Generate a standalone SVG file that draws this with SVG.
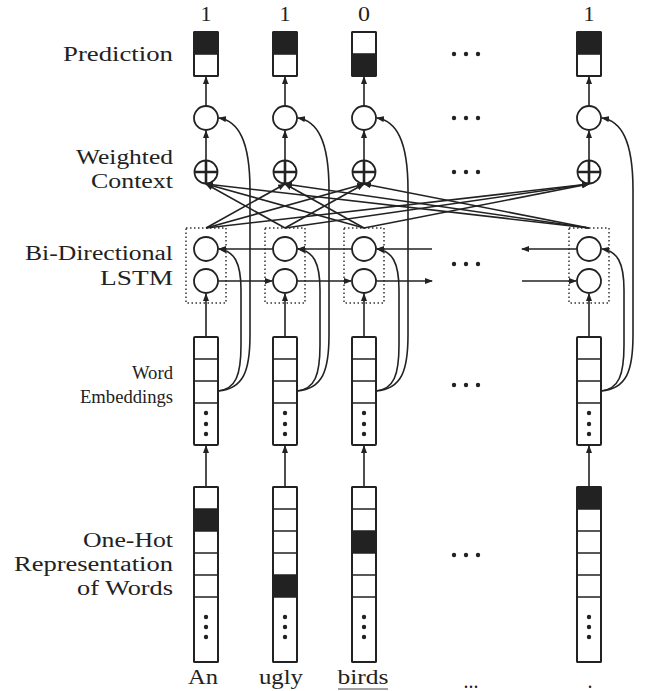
<svg xmlns="http://www.w3.org/2000/svg" width="647" height="691" viewBox="0 0 647 691">
<style>
.lbl{font-family:"Liberation Serif","Times New Roman",serif;font-size:20px;fill:#222}
.sm{font-size:18.5px}
.r{text-anchor:end}
.m{text-anchor:middle}
.box{fill:#fff;stroke:#222;stroke-width:2}
.cell{stroke:#222;stroke-width:1.6;fill:none}
.fill{fill:#222}
.node{fill:#fff;stroke:#222;stroke-width:1.8}
.plus{stroke:#222;stroke-width:2.6;fill:none}
.dot{fill:#222}
.dash{fill:none;stroke:#333;stroke-width:1.5;stroke-dasharray:1.5 2.5}
.con{fill:none;stroke:#222;stroke-width:1.6;marker-end:url(#ah)}
</style>
<defs>
<marker id="ah" markerUnits="userSpaceOnUse" markerWidth="8" markerHeight="6" refX="7" refY="3" orient="auto">
<path d="M0,0 L8,3 L0,6 z" fill="#222"/>
</marker>
</defs>
<rect width="647" height="691" fill="#fff"/>

<g id="labels">
<text class="lbl r" x="173" y="61" textLength="110" lengthAdjust="spacingAndGlyphs">Prediction</text>
<text class="lbl r" x="173" y="164" textLength="97" lengthAdjust="spacingAndGlyphs">Weighted</text>
<text class="lbl r" x="173" y="188" textLength="82" lengthAdjust="spacingAndGlyphs">Context</text>
<text class="lbl r" x="173" y="260" textLength="148" lengthAdjust="spacingAndGlyphs">Bi-Directional</text>
<text class="lbl r" x="173" y="285" textLength="73" lengthAdjust="spacingAndGlyphs">LSTM</text>
<text class="lbl sm r" x="173" y="379" textLength="41" lengthAdjust="spacingAndGlyphs">Word</text>
<text class="lbl sm r" x="173" y="403" textLength="93" lengthAdjust="spacingAndGlyphs">Embeddings</text>
<text class="lbl r" x="173" y="547" textLength="90" lengthAdjust="spacingAndGlyphs">One-Hot</text>
<text class="lbl r" x="173" y="571" textLength="159" lengthAdjust="spacingAndGlyphs">Representation</text>
<text class="lbl r" x="173" y="595" textLength="96" lengthAdjust="spacingAndGlyphs">of Words</text>
</g>

<g id="outputs">
<text class="lbl m" x="206" y="21" textLength="11" lengthAdjust="spacingAndGlyphs">1</text>
<text class="lbl m" x="285" y="21" textLength="11" lengthAdjust="spacingAndGlyphs">1</text>
<text class="lbl m" x="364" y="21" textLength="12" lengthAdjust="spacingAndGlyphs">0</text>
<text class="lbl m" x="589" y="21" textLength="11" lengthAdjust="spacingAndGlyphs">1</text>
</g>

<g id="words">
<text class="lbl m" x="203" y="684" textLength="30" lengthAdjust="spacingAndGlyphs">An</text>
<text class="lbl m" x="281" y="684" textLength="44" lengthAdjust="spacingAndGlyphs">ugly</text>
<text class="lbl m" x="363" y="684" textLength="51" lengthAdjust="spacingAndGlyphs">birds</text>
<line x1="338" y1="689" x2="388" y2="689" stroke="#444" stroke-width="1"/>
<text class="lbl m" x="471" y="688">...</text>
<text class="lbl m" x="590" y="688">.</text>
</g>

<!-- prediction boxes -->
<g id="pred1"><rect class="box" x="194" y="32" width="24" height="44" rx="1"/><rect class="fill" x="194" y="32" width="24" height="22"/><line class="cell" x1="194" y1="54" x2="218" y2="54"/><rect x="194" y="32" width="24" height="44" rx="1" fill="none" stroke="#222" stroke-width="2"/></g>
<g id="pred2"><rect class="box" x="273" y="32" width="24" height="44" rx="1"/><rect class="fill" x="273" y="32" width="24" height="22"/><line class="cell" x1="273" y1="54" x2="297" y2="54"/><rect x="273" y="32" width="24" height="44" rx="1" fill="none" stroke="#222" stroke-width="2"/></g>
<g id="pred3"><rect class="box" x="352" y="32" width="24" height="44" rx="1"/><rect class="fill" x="352" y="54" width="24" height="22"/><line class="cell" x1="352" y1="54" x2="376" y2="54"/><rect x="352" y="32" width="24" height="44" rx="1" fill="none" stroke="#222" stroke-width="2"/></g>
<g id="pred4"><rect class="box" x="577" y="32" width="24" height="44" rx="1"/><rect class="fill" x="577" y="32" width="24" height="22"/><line class="cell" x1="577" y1="54" x2="601" y2="54"/><rect x="577" y="32" width="24" height="44" rx="1" fill="none" stroke="#222" stroke-width="2"/></g>

<!-- output circles -->
<g id="out1"><circle class="node" cx="206" cy="118" r="12"/></g>
<g id="out2"><circle class="node" cx="285" cy="118" r="12"/></g>
<g id="out3"><circle class="node" cx="364" cy="118" r="12"/></g>
<g id="out4"><circle class="node" cx="589" cy="118" r="12"/></g>

<!-- weighted context -->
<g id="ctx1"><circle class="node" cx="206" cy="172" r="11.5"/><path class="plus" d="M194.5,172 H217.5 M206,160.5 V183.5"/></g>
<g id="ctx2"><circle class="node" cx="285" cy="172" r="11.5"/><path class="plus" d="M273.5,172 H296.5 M285,160.5 V183.5"/></g>
<g id="ctx3"><circle class="node" cx="364" cy="172" r="11.5"/><path class="plus" d="M352.5,172 H375.5 M364,160.5 V183.5"/></g>
<g id="ctx4"><circle class="node" cx="589" cy="172" r="11.5"/><path class="plus" d="M577.5,172 H600.5 M589,160.5 V183.5"/></g>

<!-- LSTM -->
<g id="lstm1"><rect class="dash" x="186" y="228" width="40" height="75"/><circle class="node" cx="206" cy="249" r="12"/><circle class="node" cx="206" cy="281" r="12"/></g>
<g id="lstm2"><rect class="dash" x="265" y="228" width="40" height="75"/><circle class="node" cx="285" cy="249" r="12"/><circle class="node" cx="285" cy="281" r="12"/></g>
<g id="lstm3"><rect class="dash" x="344" y="228" width="40" height="75"/><circle class="node" cx="364" cy="249" r="12"/><circle class="node" cx="364" cy="281" r="12"/></g>
<g id="lstm4"><rect class="dash" x="569" y="228" width="40" height="75"/><circle class="node" cx="589" cy="249" r="12"/><circle class="node" cx="589" cy="281" r="12"/></g>

<!-- embeddings -->
<g id="emb1"><rect class="box" x="194" y="337" width="24" height="108" rx="1"/><path class="cell" d="M194,359H218M194,381H218M194,403H218"/><circle class="dot" cx="206" cy="413" r="2.2"/><circle class="dot" cx="206" cy="424" r="2.2"/><circle class="dot" cx="206" cy="434" r="2.2"/></g>
<g id="emb2"><rect class="box" x="273" y="337" width="24" height="108" rx="1"/><path class="cell" d="M273,359H297M273,381H297M273,403H297"/><circle class="dot" cx="285" cy="413" r="2.2"/><circle class="dot" cx="285" cy="424" r="2.2"/><circle class="dot" cx="285" cy="434" r="2.2"/></g>
<g id="emb3"><rect class="box" x="352" y="337" width="24" height="108" rx="1"/><path class="cell" d="M352,359H376M352,381H376M352,403H376"/><circle class="dot" cx="364" cy="413" r="2.2"/><circle class="dot" cx="364" cy="424" r="2.2"/><circle class="dot" cx="364" cy="434" r="2.2"/></g>
<g id="emb4"><rect class="box" x="577" y="337" width="24" height="108" rx="1"/><path class="cell" d="M577,359H601M577,381H601M577,403H601"/><circle class="dot" cx="589" cy="413" r="2.2"/><circle class="dot" cx="589" cy="424" r="2.2"/><circle class="dot" cx="589" cy="434" r="2.2"/></g>

<!-- one-hot -->
<g id="oh1"><rect class="box" x="194" y="487" width="24" height="175" rx="1"/><rect class="fill" x="194" y="509" width="24" height="22"/><path class="cell" d="M194,509H218M194,531H218M194,553H218M194,575H218M194,597H218"/><circle class="dot" cx="206" cy="617" r="2.2"/><circle class="dot" cx="206" cy="627" r="2.2"/><circle class="dot" cx="206" cy="637" r="2.2"/><rect x="194" y="487" width="24" height="175" rx="1" fill="none" stroke="#222" stroke-width="2"/></g>
<g id="oh2"><rect class="box" x="273" y="487" width="24" height="175" rx="1"/><rect class="fill" x="273" y="575" width="24" height="22"/><path class="cell" d="M273,509H297M273,531H297M273,553H297M273,575H297M273,597H297"/><circle class="dot" cx="285" cy="617" r="2.2"/><circle class="dot" cx="285" cy="627" r="2.2"/><circle class="dot" cx="285" cy="637" r="2.2"/><rect x="273" y="487" width="24" height="175" rx="1" fill="none" stroke="#222" stroke-width="2"/></g>
<g id="oh3"><rect class="box" x="352" y="487" width="24" height="175" rx="1"/><rect class="fill" x="352" y="531" width="24" height="22"/><path class="cell" d="M352,509H376M352,531H376M352,553H376M352,575H376M352,597H376"/><circle class="dot" cx="364" cy="617" r="2.2"/><circle class="dot" cx="364" cy="627" r="2.2"/><circle class="dot" cx="364" cy="637" r="2.2"/><rect x="352" y="487" width="24" height="175" rx="1" fill="none" stroke="#222" stroke-width="2"/></g>
<g id="oh4"><rect class="box" x="577" y="487" width="24" height="175" rx="1"/><rect class="fill" x="577" y="487" width="24" height="22"/><path class="cell" d="M577,509H601M577,531H601M577,553H601M577,575H601M577,597H601"/><circle class="dot" cx="589" cy="617" r="2.2"/><circle class="dot" cx="589" cy="627" r="2.2"/><circle class="dot" cx="589" cy="637" r="2.2"/><rect x="577" y="487" width="24" height="175" rx="1" fill="none" stroke="#222" stroke-width="2"/></g>

<!-- ellipses -->
<g id="ellipses" class="dot">
<circle cx="454" cy="54" r="2.2"/><circle cx="466" cy="54" r="2.2"/><circle cx="478" cy="54" r="2.2"/>
<circle cx="454" cy="118" r="2.2"/><circle cx="466" cy="118" r="2.2"/><circle cx="478" cy="118" r="2.2"/>
<circle cx="454" cy="172" r="2.2"/><circle cx="466" cy="172" r="2.2"/><circle cx="478" cy="172" r="2.2"/>
<circle cx="454" cy="264" r="2.2"/><circle cx="466" cy="264" r="2.2"/><circle cx="478" cy="264" r="2.2"/>
<circle cx="454" cy="385" r="2.2"/><circle cx="466" cy="385" r="2.2"/><circle cx="478" cy="385" r="2.2"/>
<circle cx="454" cy="555" r="2.2"/><circle cx="466" cy="555" r="2.2"/><circle cx="478" cy="555" r="2.2"/>
</g>

<g id="connectors">
<!-- vertical -->
<path class="con" d="M206,106V77"/><path class="con" d="M285,106V77"/><path class="con" d="M364,106V77"/><path class="con" d="M589,106V77"/>
<path class="con" d="M206,160V131"/><path class="con" d="M285,160V131"/><path class="con" d="M364,160V131"/><path class="con" d="M589,160V131"/>
<path class="con" d="M206,337V294"/><path class="con" d="M285,337V294"/><path class="con" d="M364,337V294"/><path class="con" d="M589,337V294"/>
<path class="con" d="M206,487V446"/><path class="con" d="M285,487V446"/><path class="con" d="M364,487V446"/><path class="con" d="M589,487V446"/>
<!-- backward LSTM -->
<path class="con" d="M273,249H219"/><path class="con" d="M352,249H298"/><path class="con" d="M432,249H377"/><path class="con" d="M577,249H522"/>
<!-- forward LSTM -->
<path class="con" d="M218,281H272"/><path class="con" d="M297,281H351"/><path class="con" d="M376,281H432"/><path class="con" d="M522,281H576"/>
<!-- attention -->
<path class="con" d="M285,228L206,184"/><path class="con" d="M364,228L206,184"/><path class="con" d="M589,228L206,184"/>
<path class="con" d="M206,228L285,184"/><path class="con" d="M364,228L285,184"/><path class="con" d="M589,228L285,184"/>
<path class="con" d="M206,228L364,184"/><path class="con" d="M285,228L364,184"/><path class="con" d="M589,228L364,184"/>
<path class="con" d="M206,228L589,184"/><path class="con" d="M285,228L589,184"/><path class="con" d="M364,228L589,184"/>
<!-- skip curves to backward LSTM -->
<path class="con" d="M218,391C236,389 241,375 241,345L241,290C241,262 234,251 219,249"/>
<path class="con" d="M297,391C315,389 320,375 320,345L320,290C320,262 313,251 298,249"/>
<path class="con" d="M376,391C394,389 399,375 399,345L399,290C399,262 392,251 377,249"/>
<path class="con" d="M601,391C619,389 624,375 624,345L624,290C624,262 617,251 602,249"/>
<!-- skip curves to output -->
<path class="con" d="M218,391C244,389 250,370 250,335L250,190C250,140 238,121 219,118"/>
<path class="con" d="M297,391C323,389 329,370 329,335L329,190C329,140 317,121 298,118"/>
<path class="con" d="M376,391C402,389 408,370 408,335L408,190C408,140 396,121 377,118"/>
<path class="con" d="M601,391C627,389 633,370 633,335L633,190C633,140 621,121 602,118"/>
</g>
</svg>
